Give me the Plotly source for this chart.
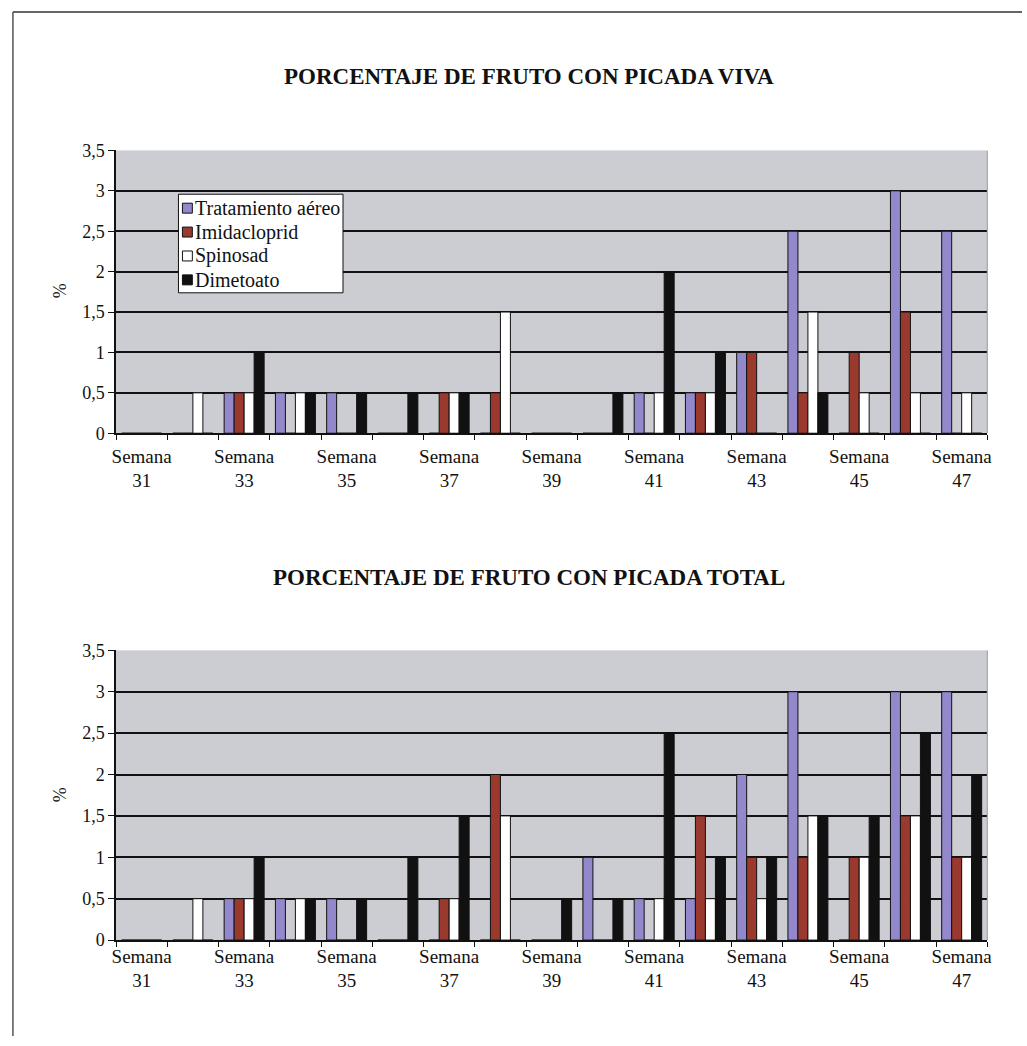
import plotly.graph_objects as go

# Weeks sampled
weeks = list(range(31, 48))
tick_weeks = [31, 33, 35, 37, 39, 41, 43, 45, 47]
tick_labels = ["Semana<br>%d" % w for w in tick_weeks]

series_names = ["Tratamiento aéreo", "Imidacloprid", "Spinosad", "Dimetoato"]
series_colors = ["#9488cc", "#9a3a2e", "#ffffff", "#111111"]

# % of fruit with live sting (picada viva)
viva_aereo = [0, 0, 0.5, 0.5, 0.5, 0, 0, 0, 0, 0, 0.5, 0.5, 1, 2.5, 0, 3, 2.5]
viva_imida = [0, 0, 0.5, 0, 0, 0, 0.5, 0.5, 0, 0, 0, 0.5, 1, 0.5, 1, 1.5, 0]
viva_spino = [0, 0.5, 0.5, 0.5, 0, 0, 0.5, 1.5, 0, 0, 0.5, 0.5, 0, 1.5, 0.5, 0.5, 0.5]
viva_dimet = [0, 0, 1, 0.5, 0.5, 0.5, 0.5, 0, 0, 0.5, 2, 1, 0, 0.5, 0, 0, 0]

# % of fruit with total sting (picada total)
total_aereo = [0, 0, 0.5, 0.5, 0.5, 0, 0, 0, 0, 1, 0.5, 0.5, 2, 3, 0, 3, 3]
total_imida = [0, 0, 0.5, 0, 0, 0, 0.5, 2, 0, 0, 0, 1.5, 1, 1, 1, 1.5, 1]
total_spino = [0, 0.5, 0.5, 0.5, 0, 0, 0.5, 1.5, 0, 0, 0.5, 0.5, 0.5, 1.5, 1, 1.5, 1]
total_dimet = [0, 0, 1, 0.5, 0.5, 1, 1.5, 0, 0.5, 0.5, 2.5, 1, 1, 1.5, 1.5, 2.5, 2]

y_ticks = [0, 0.5, 1, 1.5, 2, 2.5, 3, 3.5]
y_tick_labels = ["0", "0,5", "1", "1,5", "2", "2,5", "3", "3,5"]

FONT = "Liberation Serif, Times New Roman, serif"
W, H = 1027, 1046
# vertical placement helpers (page offset and scale of the layout grid)
Y_OFF, Y_SCALE = 8, 0.985


def px(x):
    return x / W


def py(y):
    return 1 - ((y - Y_OFF) / Y_SCALE) / H


fig = go.Figure()

panels = [
    ("x", "y", [viva_aereo, viva_imida, viva_spino, viva_dimet]),
    ("x2", "y2", [total_aereo, total_imida, total_spino, total_dimet]),
]
for xa, ya, data in panels:
    for name, color, vals in zip(series_names, series_colors, data):
        fig.add_trace(go.Bar(
            x=weeks, y=vals, name=name, xaxis=xa, yaxis=ya,
            marker=dict(color=color, line=dict(color="#111111", width=1)),
            showlegend=False,
        ))

x_dom = [px(113), px(992)]
top_dom = [py(433), py(149)]
bot_dom = [py(942), py(651)]


def xaxis_cfg(anchor, standoff):
    return dict(
        domain=x_dom, anchor=anchor, range=[30.5, 47.5],
        tickmode="array", tickvals=tick_weeks, ticktext=tick_labels,
        ticks="", showgrid=False, zeroline=False,
        showline=True, linecolor="#111111", linewidth=1.5,
        ticklabelstandoff=standoff,
        tickfont=dict(family=FONT, size=19, color="#111111"),
        minor=dict(tickmode="array", tickvals=[w - 0.5 for w in weeks] + [47.5],
                   ticks="outside", ticklen=5, tickwidth=1, tickcolor="#111111",
                   showgrid=False),
    )


def yaxis_cfg(anchor, dom):
    return dict(
        domain=dom, anchor=anchor, range=[0, 3.5],
        tickmode="array", tickvals=y_ticks, ticktext=y_tick_labels,
        ticks="outside", ticklen=6, tickwidth=1, tickcolor="#111111",
        showgrid=False, zeroline=False,
        showline=True, linecolor="#111111", linewidth=1.5,
        tickfont=dict(family=FONT, size=18, color="#111111"),
        minor=dict(tickmode="array", tickvals=[0.5, 1, 1.5, 2, 2.5, 3],
                   ticks="", showgrid=True, gridcolor="#111111", gridwidth=1.5),
    )


fig.update_layout(
    width=W, height=H, autosize=False,
    margin=dict(l=0, r=0, t=0, b=0),
    paper_bgcolor="white",
    plot_bgcolor="#cbcdd2",
    barmode="group", bargap=0.22, bargroupgap=0,
    xaxis=xaxis_cfg("y", 5), yaxis=yaxis_cfg("x", top_dom),
    xaxis2=xaxis_cfg("y2", -2), yaxis2=yaxis_cfg("x2", bot_dom),
    showlegend=False,
)

# Faint right-hand border of each plot area
for xd, ya in (("x domain", "y"), ("x2 domain", "y2")):
    fig.add_shape(type="line", xref=xd, yref=ya, x0=1, x1=1, y0=0, y1=3.5,
                  line=dict(color="#9a9a9a", width=1), layer="above")

# Legend box for the upper panel: swatches plus labels
lx0, ly0, lx1, ly1 = 176, 193, 342, 292
fig.add_shape(type="rect", xref="paper", yref="paper",
              x0=px(lx0), x1=px(lx1), y0=py(ly1), y1=py(ly0),
              fillcolor="white", line=dict(color="#111111", width=1))
for i, (name, color) in enumerate(zip(series_names, series_colors)):
    cy = 207 + 24 * i
    fig.add_shape(type="rect", xref="paper", yref="paper",
                  x0=px(180), x1=px(190), y0=py(cy + 5), y1=py(cy - 5),
                  fillcolor=color, line=dict(color="#111111", width=1))
    fig.add_annotation(text=name, xref="paper", yref="paper",
                       x=px(191), y=py(cy), xanchor="left", yanchor="middle",
                       showarrow=False,
                       font=dict(family=FONT, size=20, color="#111111"))

titles = [
    ("PORCENTAJE DE FRUTO CON PICADA VIVA", 75),
    ("PORCENTAJE DE FRUTO CON PICADA TOTAL", 578),
]
for text, ypx in titles:
    fig.add_annotation(
        text="<b>%s</b>" % text, xref="paper", yref="paper",
        x=px(530), y=py(ypx), xanchor="center", yanchor="middle",
        showarrow=False,
        font=dict(family=FONT, size=23, color="#111111"),
    )

for ypx in (290, 796):
    fig.add_annotation(
        text="%", xref="paper", yref="paper", x=px(56), y=py(ypx),
        xanchor="center", yanchor="middle",
        showarrow=False, textangle=-90,
        font=dict(family=FONT, size=18, color="#111111"),
    )

# Page frame (top and left border)
fig.add_shape(type="line", xref="paper", yref="paper",
              x0=px(9), x1=1, y0=py(10), y1=py(10),
              line=dict(color="#333333", width=1.5))
fig.add_shape(type="line", xref="paper", yref="paper",
              x0=px(9), x1=px(9), y0=0, y1=py(10),
              line=dict(color="#555555", width=1.5))

fig.write_html("out.html", config={"responsive": False})
